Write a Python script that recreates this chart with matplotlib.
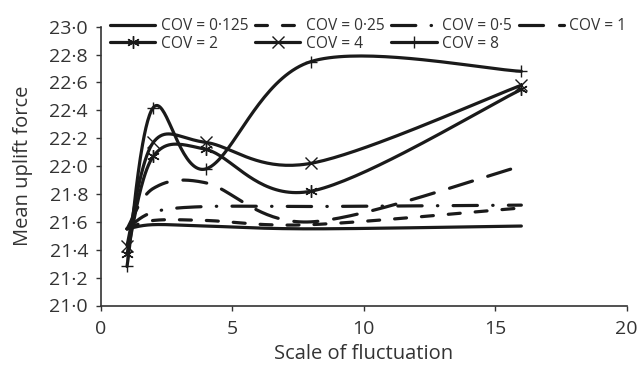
import numpy as np
import matplotlib
matplotlib.use("Agg")
import matplotlib.pyplot as plt
from matplotlib.ticker import FuncFormatter, MultipleLocator

plt.rcParams['font.family'] = ['Open Sans', 'DejaVu Sans']
plt.rcParams['lines.scale_dashes'] = False

# ---- data ----
scale = [1, 2, 4, 8, 16]
cov_labels = ['COV = 0·125', 'COV = 0·25', 'COV = 0·5', 'COV = 1',
              'COV = 2', 'COV = 4', 'COV = 8']
cov_0125 = [21.55, 21.58, 21.57, 21.55, 21.57]
cov_025 = [21.55, 21.61, 21.61, 21.58, 21.70]
cov_05 = [21.55, 21.67, 21.71, 21.71, 21.72]
cov_1 = [21.55, 21.84, 21.88, 21.60, 22.00]
cov_2 = [21.37, 22.07, 22.12, 21.82, 22.55]
cov_4 = [21.43, 22.17, 22.17, 22.02, 22.58]
cov_8 = [21.28, 22.42, 21.98, 22.75, 22.68]
series = [cov_0125, cov_025, cov_05, cov_1, cov_2, cov_4, cov_8]


def bezier_smooth(x, y, n=40):
    P = np.column_stack([x, y]).astype(float)
    m = len(P)
    out = [P[0]]
    idx = [0]
    for i in range(m - 1):
        p0 = P[i]
        p3 = P[i + 1]
        prev = P[i - 1] if i > 0 else P[i]
        nxt = P[i + 2] if i + 2 < m else P[i + 1]
        c1 = p0 + (p3 - prev) / 6.0
        c2 = p3 - (nxt - p0) / 6.0
        t = np.linspace(0, 1, n + 1)[1:, None]
        seg = ((1 - t) ** 3) * p0 + 3 * ((1 - t) ** 2) * t * c1 \
            + 3 * (1 - t) * (t ** 2) * c2 + (t ** 3) * p3
        out.extend(seg)
        idx.append(len(out) - 1)
    out = np.array(out)
    return out[:, 0], out[:, 1], idx


col = '#1a1a1a'
lw = 2.3
styles = [
    dict(linestyle='-'),
    dict(dashes=(8.6, 10.8)),
    dict(dashes=(17.5, 11.0, 0.3, 11.0)),
    dict(dashes=(17.3, 11.5)),
    dict(linestyle='-', marker=(6, 2, 0), markersize=9),
    dict(linestyle='-', marker='x', markersize=8),
    dict(linestyle='-', marker='+', markersize=9),
]

fig = plt.figure(figsize=(6.39, 3.65), dpi=100)
left, right = 100.7 / 639, 626.5 / 639
bottom, top = 1 - 305.5 / 365, 1 - 26.7 / 365
ax = fig.add_axes([left, bottom, right - left, top - bottom])

handles = []
for vals, lab, st in zip(series, cov_labels, styles):
    sx, sy, idx = bezier_smooth(scale, vals)
    kw = dict(color=col, lw=lw, label=lab, solid_capstyle='round',
              dash_capstyle='round')
    kw.update(st)
    if 'marker' in kw:
        kw.update(markevery=idx, markeredgewidth=1.0, markeredgecolor=col)
    h, = ax.plot(sx, sy, **kw)
    handles.append(h)

ax.set_xlim(0, 20)
ax.set_ylim(21.0, 23.0)
ax.xaxis.set_major_locator(MultipleLocator(5))
ax.yaxis.set_major_locator(MultipleLocator(0.2))
ax.yaxis.set_major_formatter(FuncFormatter(lambda v, p: f"{v:.1f}".replace('.', '·')))
for s in ['top', 'right']:
    ax.spines[s].set_visible(False)
for s in ['left', 'bottom']:
    ax.spines[s].set_linewidth(1.2)
    ax.spines[s].set_color('#333333')
ax.tick_params(axis='both', direction='out', length=3.6, width=1.0, colors='#333333',
               labelsize=14, labelcolor='#333333')
ax.tick_params(axis='x', pad=6.5)
ax.tick_params(axis='y', pad=5.5)
ax.set_xlabel('Scale of fluctuation', fontsize=14.5, color='#333333', labelpad=5)
ax.set_ylabel('Mean uplift force', fontsize=14.5, color='#333333', labelpad=12)

order = [0, 4, 1, 5, 2, 6, 3]
leg = fig.legend([handles[i] for i in order], [cov_labels[i] for i in order],
                 ncol=4, loc='upper left', bbox_to_anchor=(110 / 639, 0.950),
                 frameon=False, fontsize=11.2, handlelength=2.9, handletextpad=0.35,
                 columnspacing=0.45, labelspacing=0.1, borderpad=0, borderaxespad=0,
                 numpoints=1)
for t in leg.get_texts():
    t.set_color('#333333')

fig.savefig('out.png', dpi=100)
